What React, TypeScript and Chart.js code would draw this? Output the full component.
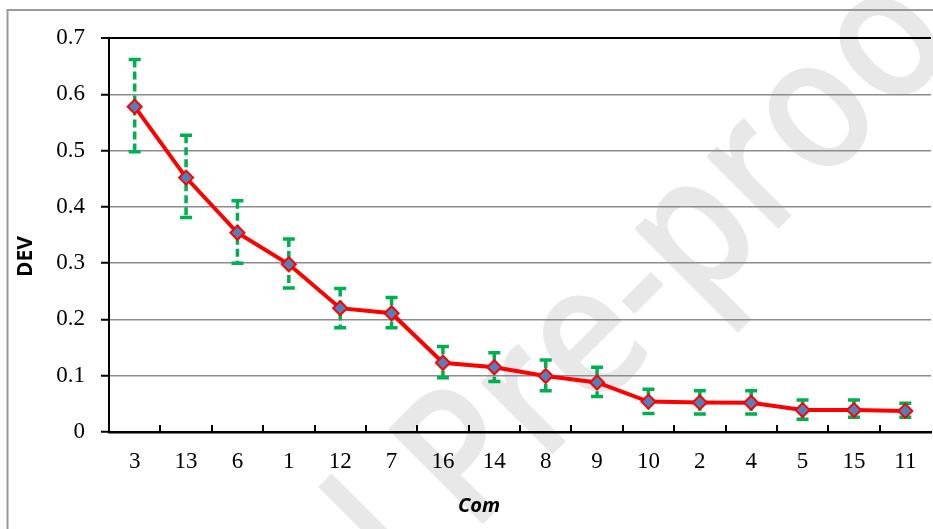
import React, { useEffect, useRef } from 'react';
import { Chart, registerables } from 'chart.js';

Chart.register(...registerables);

// ---- data ----
const categories = ['3', '13', '6', '1', '12', '7', '16', '14', '8', '9', '10', '2', '4', '5', '15', '11'];
const devValues = [0.578, 0.452, 0.354, 0.298, 0.220, 0.211, 0.123, 0.115, 0.0995, 0.088, 0.054, 0.0525, 0.052, 0.039, 0.039, 0.0375];
const errUpper = [0.662, 0.527, 0.411, 0.343, 0.255, 0.239, 0.152, 0.141, 0.128, 0.115, 0.076, 0.0735, 0.0735, 0.057, 0.057, 0.051];
const errLower = [0.498, 0.381, 0.300, 0.256, 0.185, 0.185, 0.0965, 0.0895, 0.0735, 0.063, 0.033, 0.032, 0.032, 0.0225, 0.026, 0.026];
const yTickValues = [0, 0.1, 0.2, 0.3, 0.4, 0.5, 0.6, 0.7];
const yAxisTitle = 'DEV';
const xAxisTitle = 'Com';
const watermarkLeft = 'Journal ';
const watermarkRight = 'Pre-proof';

export default function App() {
  const ref = useRef<HTMLCanvasElement>(null);

  useEffect(() => {
    const canvas = ref.current;
    if (!canvas) return;

    const custom = {
      id: 'custom',
      beforeDraw(chart: any) {
        const ctx = chart.ctx;
        ctx.save();
        ctx.fillStyle = '#ffffff';
        ctx.fillRect(0, 0, chart.width, chart.height);
        // watermark
        ctx.translate(472, 535);
        ctx.rotate(-Math.PI / 4);
        ctx.scale(0.87, 1);
        ctx.font = '600 188px "Open Sans"';
        ctx.fillStyle = '#e8e8e8';
        ctx.textBaseline = 'alphabetic';
        ctx.textAlign = 'right';
        ctx.fillText(watermarkLeft, 0, 0);
        ctx.textAlign = 'left';
        ctx.fillText(watermarkRight, 0, 0);
        ctx.restore();
        // outer chart border
        ctx.save();
        ctx.strokeStyle = '#9a9a9a';
        ctx.lineWidth = 2;
        ctx.beginPath();
        ctx.moveTo(7.5, chart.height + 5);
        ctx.lineTo(7.5, 10);
        ctx.lineTo(chart.width + 5, 10);
        ctx.stroke();
        ctx.restore();
      },
      beforeDatasetsDraw(chart: any) {
        const ctx = chart.ctx;
        const xs = chart.scales.x;
        const ys = chart.scales.y;
        ctx.save();
        ctx.strokeStyle = '#00b050';
        for (let i = 0; i < categories.length; i++) {
          const px = xs.getPixelForValue(i);
          const top = ys.getPixelForValue(errUpper[i]);
          const bot = ys.getPixelForValue(errLower[i]);
          ctx.lineWidth = 3.5;
          ctx.setLineDash([8, 4]);
          ctx.beginPath();
          ctx.moveTo(px, top);
          ctx.lineTo(px, bot);
          ctx.stroke();
          ctx.setLineDash([]);
          ctx.lineWidth = 3.5;
          ctx.beginPath();
          ctx.moveTo(px - 6, top);
          ctx.lineTo(px + 6, top);
          ctx.moveTo(px - 6, bot);
          ctx.lineTo(px + 6, bot);
          ctx.stroke();
        }
        ctx.restore();
      },
      afterDraw(chart: any) {
        const ctx = chart.ctx;
        const xs = chart.scales.x;
        const area = chart.chartArea;
        ctx.save();
        // inward tick marks between categories
        ctx.strokeStyle = '#000';
        ctx.lineWidth = 2;
        ctx.beginPath();
        for (let i = 0; i < categories.length - 1; i++) {
          const px = Math.round((xs.getPixelForValue(i) + xs.getPixelForValue(i + 1)) / 2);
          ctx.moveTo(px, area.bottom);
          ctx.lineTo(px, area.bottom - 7);
        }
        ctx.stroke();
        // axis titles
        ctx.fillStyle = '#000';
        ctx.textAlign = 'center';
        ctx.textBaseline = 'middle';
        ctx.font = 'italic bold 20px "Open Sans"';
        ctx.fillText(xAxisTitle, 479, 506);
        ctx.translate(26.5, 256.5);
        ctx.rotate(-Math.PI / 2);
        ctx.font = 'bold 21px "Open Sans"';
        ctx.fillText(yAxisTitle, 0, 0);
        ctx.restore();
      },
    };

    const chart = new Chart(canvas, {
      type: 'line',
      data: {
        labels: categories,
        datasets: [
          {
            label: yAxisTitle,
            data: devValues,
            borderColor: '#ff0000',
            borderWidth: 4,
            tension: 0,
            pointStyle: 'rectRot',
            pointRadius: 7,
            pointBorderWidth: 2,
            pointBackgroundColor: '#4f81bd',
            pointBorderColor: '#ff0000',
          },
        ],
      },
      options: {
        responsive: false,
        animation: false,
        devicePixelRatio: 1,
        layout: { padding: { left: 0, top: 38, right: 4, bottom: 0 } },
        plugins: { legend: { display: false }, tooltip: { enabled: false } },
        scales: {
          x: {
            type: 'category',
            offset: true,
            grid: { display: false, drawTicks: false },
            border: { display: true, color: '#000', width: 2.5 },
            ticks: {
              color: '#000',
              font: { family: '"Liberation Serif"', size: 23 },
              padding: 16,
              maxRotation: 0,
              autoSkip: false,
            },
            afterFit: (s: any) => {
              s.height = 97;
            },
          },
          y: {
            min: 0,
            max: 0.7,
            afterBuildTicks: (s: any) => {
              s.ticks = yTickValues.map((v) => ({ value: v }));
            },
            grid: {
              color: (c: any) => (c.tick && Math.abs(c.tick.value - 0.7) < 1e-6 ? '#000' : '#8c8c8c'),
              lineWidth: (c: any) => (c.tick && Math.abs(c.tick.value - 0.7) < 1e-6 ? 2 : 1.5),
              tickColor: '#000',
              tickLength: 8,
              tickWidth: 2,
            },
            border: { display: true, color: '#000', width: 2 },
            ticks: {
              color: '#000',
              font: { family: '"Liberation Serif"', size: 23 },
              padding: 16,
              callback: (v: any) => String(v),
            },
            afterFit: (s: any) => {
              s.width = 109;
            },
          },
        },
      },
      plugins: [custom],
    });

    return () => chart.destroy();
  }, []);

  return (
    <div style={{ position: 'absolute', left: 0, top: 0, width: 933, height: 529, overflow: 'hidden' }}>
      <canvas ref={ref} width={940} height={529} style={{ display: 'block' }} />
    </div>
  );
}
